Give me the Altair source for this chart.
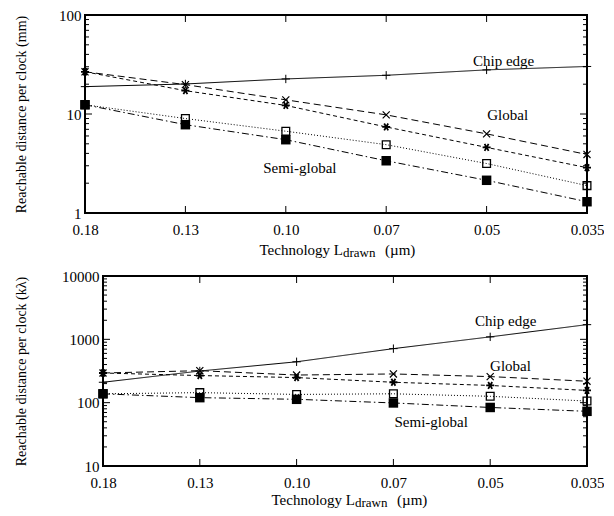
import altair as alt
import pandas as pd

# ---------------- data ----------------
tick_labels = ["0.18", "0.13", "0.10", "0.07", "0.05", "0.035"]
idx = [0, 1, 2, 3, 4, 5]

# top panel: reachable distance per clock (mm)
mm_chip = [18.9, 20.1, 22.6, 24.6, 27.9, 30.2]
mm_global_x = [26.7, 19.8, 13.9, 9.8, 6.3, 3.9]
mm_global_star = [26.7, 17.2, 12.2, 7.4, 4.6, 2.87]
mm_semi_open = [12.4, 9.0, 6.7, 4.9, 3.16, 1.89]
mm_semi_filled = [12.4, 7.8, 5.5, 3.37, 2.14, 1.30]

# bottom panel: reachable distance per clock (k lambda)
kl_chip = [210, 316, 442, 713, 1094, 1706]
kl_global_x = [294, 320, 273, 284, 258, 218]
kl_global_star = [294, 268, 249, 210, 187, 156]
kl_semi_open = [138, 144, 135, 138, 126, 106]
kl_semi_filled = [138, 120, 113, 99, 84, 73]

mm_labels = ["Chip edge", "Global", "Semi-global"]
mm_label_x = [4.17, 4.21, 2.14]
mm_label_y = [34.4, 9.8, 2.87]
kl_labels = ["Chip edge", "Global", "Semi-global"]
kl_label_x = [4.16, 4.21, 3.39]
kl_label_y = [1920, 383, 50]

mm_major = [1, 10, 100]
mm_minor = [2, 3, 4, 5, 6, 7, 8, 9, 20, 30, 40, 50, 60, 70, 80, 90]
kl_major = [10, 100, 1000, 10000]
kl_minor = [20, 30, 40, 50, 60, 70, 80, 90, 200, 300, 400, 500, 600, 700, 800, 900,
            2000, 3000, 4000, 5000, 6000, 7000, 8000, 9000]

# ---------------- styles ----------------
FONT = "Liberation Serif"
PLUS = "M-1,0L1,0M0,-1L0,1"
CROSS = "M-1,-1L1,1M-1,1L1,-1"
STAR = "M-1,0L1,0M-0.5,-0.866L0.5,0.866M-0.5,0.866L0.5,-0.866"
styles = [
    dict(dash=[1, 0], shape=PLUS, filled=False, size=70, sw=1.0),
    dict(dash=[7, 4], shape=CROSS, filled=False, size=50, sw=1.2),
    dict(dash=[4, 3], shape=STAR, filled=False, size=64, sw=1.8),
    dict(dash=[1, 2], shape="square", filled=False, size=60, sw=1.3),
    dict(dash=[7, 3, 1.5, 3], shape="square", filled=True, size=90, sw=1.0),
]

label_expr = "[" + ",".join("'%s'" % t for t in tick_labels) + "][datum.value]"


def panel(series, labels, lx, ly, ydomain, major, minor, ytitle, width, height,
          left, title_pad, title_shift, title_gap):
    xs = alt.Scale(domain=[0, 5], nice=False, zero=False, range=[left, width])
    ys = alt.Scale(type="log", domain=ydomain, nice=False)
    xenc = alt.X("idx:Q", scale=xs,
                 axis=alt.Axis(values=idx, labelExpr=label_expr, title=None,
                               grid=False, ticks=False, tickSize=0, domain=False,
                               labelPadding=9, labelFlush=False,
                               labelFont=FONT, labelFontSize=15, labelColor="black"))
    yenc = alt.Y("val:Q", scale=ys, title=ytitle,
                 axis=alt.Axis(values=major, format="d", title=ytitle,
                               titlePadding=title_pad, grid=False, ticks=False,
                               tickSize=0, domain=False, labelPadding=4,
                               offset=-left,
                               labelFont=FONT, labelFontSize=15, labelColor="black",
                               titleFont=FONT, titleFontSize=14,
                               titleFontWeight="normal", titleColor="black"))
    layers = []
    # frame
    layers.append(alt.Chart(pd.DataFrame({"f": [0]})).mark_rect(
        fill="white", fillOpacity=0, stroke="black", strokeWidth=2).encode(
        x=alt.value(left), x2=alt.value(width), y=alt.value(0), y2=alt.value(height)))
    for vals, st in zip(series, styles):
        df = pd.DataFrame({"idx": idx, "val": vals})
        base = alt.Chart(df)
        layers.append(base.mark_line(color="black", strokeWidth=1,
                                     strokeDash=st["dash"]).encode(x=xenc, y=yenc))
        layers.append(base.mark_point(shape=st["shape"], filled=st["filled"],
                                      size=st["size"], color="black",
                                      strokeWidth=st["sw"], opacity=1).encode(
            x=xenc, y=yenc))
    # inside ticks
    xt = alt.Chart(pd.DataFrame({"idx": idx[1:-1]}))
    layers.append(xt.mark_rule(color="black").encode(
        x=xenc, y=alt.value(height), y2=alt.value(height - 7)))
    layers.append(xt.mark_rule(color="black").encode(
        x=xenc, y=alt.value(0), y2=alt.value(7)))
    for vals, ln in ((major, 7), (minor, 4)):
        yt = alt.Chart(pd.DataFrame({"val": vals}))
        layers.append(yt.mark_rule(color="black").encode(
            y=yenc, x=alt.value(left), x2=alt.value(left + ln)))
        layers.append(yt.mark_rule(color="black").encode(
            y=yenc, x=alt.value(width), x2=alt.value(width - ln)))
    # series annotations
    ann = pd.DataFrame({"idx": lx, "val": ly, "t": labels})
    layers.append(alt.Chart(ann).mark_text(font=FONT, fontSize=15, color="black").encode(
        x=xenc, y=yenc, text="t:N"))
    # x axis title with subscript
    ty = height + title_gap
    parts = [("Technology L", 15, "right", title_shift + 258, ty),
             ("drawn", 13, "left", title_shift + 258, ty + 3),
             ("(\u00b5m)", 15, "left", title_shift + 300, ty)]
    for txt, fs, al, px, py in parts:
        layers.append(alt.Chart(pd.DataFrame({"t": [txt]})).mark_text(
            font=FONT, fontSize=fs, align=al, baseline="middle", color="black").encode(
            x=alt.value(px), y=alt.value(py), text="t:N"))
    return alt.layer(*layers).properties(width=width, height=height)


top = panel([mm_chip, mm_global_x, mm_global_star, mm_semi_open, mm_semi_filled],
            mm_labels, mm_label_x, mm_label_y, [1, 100], mm_major, mm_minor,
            "Reachable distance per clock (mm)", 502, 198, 0, 30, 0, 37)
bottom = panel([kl_chip, kl_global_x, kl_global_star, kl_semi_open, kl_semi_filled],
               kl_labels, kl_label_x, kl_label_y, [10, 10000], kl_major, kl_minor,
               "Reachable distance per clock (k\u03bb)", 502, 190, 18, 33, 12, 34)

chart = alt.concat(top, bottom, columns=1, spacing=9).properties(
    padding={"left": 6, "top": 0, "right": 0, "bottom": 0}
).configure_view(strokeWidth=0)

chart.save("out.html", embed_options={"renderer": "svg", "actions": False})
